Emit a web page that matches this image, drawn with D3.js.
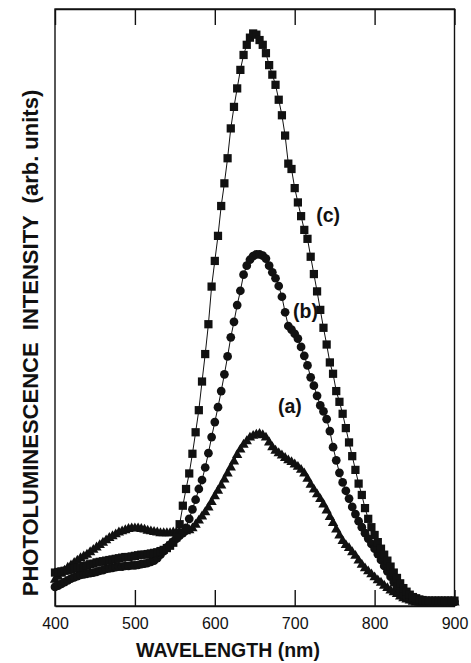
<!DOCTYPE html>
<html>
<head>
<meta charset="utf-8">
<script src="https://cdn.jsdelivr.net/npm/d3@7"></script>
<style>
  html, body { margin: 0; padding: 0; background: #fff; }
  svg { display: block; }
  text { font-family: "Liberation Sans", Arial, Helvetica, sans-serif; fill: #111; }
</style>
</head>
<body>
<svg id="chart" width="471" height="663"></svg>
<script>
// ---------------- DATA ----------------
const wavelengths = [
  400,404,408,412,416,420,424,428,432,436,
  440,444,448,452,456,460,464,468,472,476,
  480,484,488,492,496,500,504,508,512,516,
  520,524,528,532,536,540,544,548,552,556,
  560,564,568,572,576,580,584,588,592,596,
  600,604,608,612,616,620,624,628,632,636,
  640,644,648,652,656,660,664,668,672,676,
  680,684,688,692,696,700,704,708,712,716,
  720,724,728,732,736,740,744,748,752,756,
  760,764,768,772,776,780,784,788,792,796,
  800,804,808,812,816,820,824,828,832,836,
  840,844,848,852,856,860,864,868,872,876,
  880,884,888,892,896,900
];

// (a) triangles
const seriesA = [
  4.4,4.9,5.4,5.9,6.4,6.8,7.2,7.6,8.0,8.3,
  8.6,9.0,9.4,9.8,10.2,10.6,11.0,11.4,11.7,12.0,
  12.3,12.5,12.7,12.9,13.0,13.0,13.0,12.9,12.8,12.6,
  12.5,12.4,12.3,12.2,12.2,12.2,12.2,12.3,12.3,12.3,
  12.4,12.5,12.7,13.0,13.6,14.3,15.0,15.7,16.5,17.4,
  18.4,19.3,20.2,21.2,22.2,23.2,24.2,25.3,26.2,27.0,
  27.6,28.2,28.5,28.7,28.8,28.6,28.2,27.4,26.6,26.0,
  25.6,25.2,24.8,24.4,24.1,23.7,23.3,22.8,22.2,21.3,
  20.3,19.5,18.7,17.9,17.0,16.0,14.9,13.9,12.8,11.8,
  10.9,10.2,9.7,9.0,8.4,7.6,6.9,6.3,5.8,5.3,
  4.8,4.3,3.9,3.4,3.0,2.6,2.3,2.0,1.6,1.3,
  1.1,0.9,0.7,0.6,0.6,0.6,0.6,0.6,0.6,0.6,
  0.6,0.6,0.6,0.6,0.6,0.6
];

// (b) circles
const seriesB = [
  3.2,3.4,3.7,4.0,4.3,4.6,4.8,5.0,5.2,5.3,
  5.4,5.5,5.6,5.7,5.9,6.0,6.2,6.3,6.4,6.5,
  6.6,6.6,6.7,6.7,6.8,6.8,6.9,7.0,7.1,7.2,
  7.4,7.6,8.0,8.6,9.2,9.8,10.3,10.8,11.3,11.8,
  12.2,13.1,14.6,16.2,17.8,19.6,21.1,23.2,25.6,28.3,
  30.8,33.3,36.0,38.8,41.8,45.0,47.6,50.4,52.8,55.5,
  57.0,58.0,58.6,58.9,58.9,58.7,58.2,57.0,55.9,54.9,
  53.6,51.8,49.2,46.9,46.3,45.6,44.8,43.4,41.9,40.3,
  38.3,36.9,35.2,33.6,32.6,31.3,29.3,26.6,24.4,22.3,
  20.7,19.3,18.0,16.6,15.4,14.2,13.2,12.2,11.3,10.4,
  9.6,8.7,7.7,6.7,5.8,4.9,4.0,3.2,2.5,1.9,
  1.5,1.1,0.9,0.8,0.7,0.7,0.7,0.7,0.7,0.7,
  0.7,0.7,0.7,0.7,0.7,0.7
];

// (c) squares
const seriesC = [
  5.6,5.7,5.8,5.9,6.0,6.1,6.3,6.4,6.5,6.7,
  6.8,7.0,7.1,7.3,7.4,7.5,7.6,7.7,7.8,7.9,
  8.0,8.1,8.2,8.2,8.3,8.4,8.5,8.6,8.6,8.7,
  8.8,8.9,9.0,9.2,9.4,9.7,10.1,10.6,11.5,13.7,
  16.8,19.6,22.2,25.5,29.1,32.8,37.6,42.2,47.2,53.5,
  57.8,62.0,67.0,70.8,75.0,80.0,83.6,86.7,89.8,92.3,
  94.0,95.2,95.9,95.7,94.8,94.0,92.6,90.6,89.0,87.3,
  84.8,82.2,78.8,74.1,73.2,70.0,67.6,65.3,63.0,61.5,
  58.5,55.6,52.7,49.6,46.6,43.8,40.8,38.9,36.0,34.2,
  32.2,29.8,27.4,25.1,22.8,20.5,18.6,16.4,14.6,13.2,
  11.9,10.7,9.6,8.6,7.6,6.6,5.6,4.7,3.8,3.0,
  2.4,1.9,1.5,1.3,1.1,1.0,0.9,0.9,0.9,0.9,
  0.9,0.9,0.9,0.9,0.9,0.9
];

const xTicks = [400, 500, 600, 700, 800, 900];
const seriesLabels = ["(a)", "(b)", "(c)"];
const xTitle = "WAVELENGTH (nm)";
const yTitle = "PHOTOLUMINESCENCE  INTENSITY  (arb. units)";

// ---------------- CHART ----------------
const svg = d3.select("#chart");
const mLeft = 55, mRight = 454.5, mTop = 9, mBottom = 606;
const ink = "#111";

const x = d3.scaleLinear().domain([400, 900]).range([mLeft, mRight]);
const y = d3.scaleLinear().domain([0, 100]).range([mBottom, mTop]);

// frame
svg.append("rect")
  .attr("x", mLeft).attr("y", mTop)
  .attr("width", mRight - mLeft).attr("height", mBottom - mTop)
  .attr("fill", "none").attr("stroke", ink).attr("stroke-width", 1.4);

// bottom axis (ticks pointing in)
const gB = svg.append("g").attr("transform", `translate(0,${mBottom})`)
  .call(d3.axisBottom(x).tickValues(xTicks).tickSizeInner(-16).tickSizeOuter(0).tickPadding(12).tickFormat(d3.format("d")));
gB.select(".domain").attr("stroke", ink).attr("stroke-width", 1.4);
gB.selectAll(".tick line").attr("stroke", ink).attr("stroke-width", 1.4);
gB.selectAll(".tick text").attr("font-size", 16).attr("fill", ink)
  .style("font-family", '"Liberation Sans", Arial, sans-serif');

// top axis (ticks pointing in, no labels)
const gT = svg.append("g").attr("transform", `translate(0,${mTop})`)
  .call(d3.axisTop(x).tickValues(xTicks).tickSizeInner(-16).tickSizeOuter(0).tickFormat(""));
gT.select(".domain").attr("stroke", ink).attr("stroke-width", 1.4);
gT.selectAll(".tick line").attr("stroke", ink).attr("stroke-width", 1.4);

// data
const series = [
  { name: "a", values: seriesA, symbol: d3.symbolTriangle, size: 46 },
  { name: "b", values: seriesB, symbol: d3.symbolCircle, size: 60 },
  { name: "c", values: seriesC, symbol: d3.symbolSquare, size: 68 }
];

const line = d3.line().x((d, i) => x(wavelengths[i])).y(d => y(d));

const plot = svg.append("g");
series.forEach(s => {
  plot.append("path")
    .attr("d", line(s.values))
    .attr("fill", "none").attr("stroke", ink).attr("stroke-width", 1);
  plot.append("g").selectAll("path")
    .data(s.values)
    .join("path")
    .attr("transform", (d, i) => `translate(${x(wavelengths[i])},${y(d)})`)
    .attr("d", d3.symbol().type(s.symbol).size(s.size))
    .attr("fill", ink);
});

// series labels
const labelPos = [
  { t: seriesLabels[0], lx: 679, ly: 32.3 },
  { t: seriesLabels[1], lx: 698, ly: 48.3 },
  { t: seriesLabels[2], lx: 727, ly: 64.3 }
];
svg.append("g").selectAll("text")
  .data(labelPos)
  .join("text")
  .attr("x", d => x(d.lx))
  .attr("y", d => y(d.ly))
  .attr("font-size", 19.5).attr("font-weight", "bold")
  .text(d => d.t);

// axis titles
svg.append("text")
  .attr("x", 228).attr("y", 657)
  .attr("text-anchor", "middle")
  .attr("font-size", 19.5).attr("font-weight", "bold")
  .text(xTitle);

svg.append("text")
  .attr("transform", "translate(38,343) rotate(-90)")
  .attr("text-anchor", "middle")
  .attr("font-size", 22).attr("font-weight", "bold")
  .style("white-space", "pre")
  .text(yTitle);
</script>
</body>
</html>
